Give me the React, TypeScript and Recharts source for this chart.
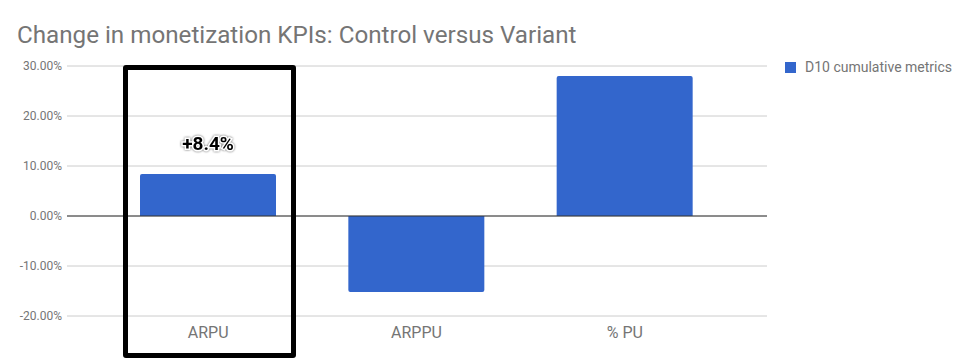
import React from "react";
import { BarChart, Bar, XAxis, YAxis, CartesianGrid, ReferenceLine, LabelList } from "recharts";

const categories = ["ARPU", "ARPPU", "% PU"];
const values = [8.4, -15.2, 28.0];
const annotations = ["+8.4%", "", ""];
const yTicks = [-20, -10, 0, 10, 20, 30];
const seriesName = "D10 cumulative metrics";
const title = "Change in monetization KPIs: Control versus Variant";

const data = categories.map((c, i) => ({ name: c, value: values[i], note: annotations[i] }));

const FONT = "Roboto, 'Noto Sans', sans-serif";
const GREY = "#757575";
const BLUE = "#3366cc";

const NoteLabel = (props: any) => {
  const { x, y, width, value } = props;
  if (!value) return null;
  return (
    <text
      x={x + width / 2}
      y={y - 24}
      textAnchor="middle"
      fontFamily={FONT}
      fontWeight="bold"
      fontSize={19}
      fill="#000"
      stroke="#fff"
      strokeWidth={3}
      paintOrder="stroke"
      style={{ filter: "drop-shadow(0px 0px 1px rgba(0,0,0,0.6))" }}
    >
      {value}
    </text>
  );
};

export default function App() {
  return (
    <div style={{ position: "fixed", left: 0, top: 0, width: 968, height: 363, background: "#fff", overflow: "hidden" }}>
      <div
        style={{
          position: "absolute",
          left: 17,
          top: 22.5,
          fontFamily: FONT,
          fontSize: 24.2,
          lineHeight: "24px",
          color: GREY,
          whiteSpace: "nowrap",
        }}
      >
        {title}
      </div>
      <BarChart
        width={968}
        height={363}
        data={data}
        margin={{ top: 66, right: 201, bottom: 17, left: 7 }}
        barSize={136}
      >
        <CartesianGrid horizontal vertical={false} stroke="#cccccc" />
        <XAxis
          dataKey="name"
          axisLine={false}
          tickLine={false}
          height={30}
          tickSize={0}
          tickMargin={11}
          padding={{ left: 37, right: 38 }}
          tick={{ fill: GREY, fontSize: 16, fontFamily: FONT }}
        />
        <YAxis
          width={60}
          domain={[-20, 30]}
          ticks={yTicks}
          axisLine={false}
          tickLine={false}
          tickSize={3}
          tickMargin={2}
          interval={0}
          tickFormatter={(v: number) => `${v.toFixed(2)}%`}
          tick={{ fill: GREY, fontSize: 12, fontFamily: FONT }}
        />
        <ReferenceLine y={0} stroke="#333333" strokeWidth={1} />
        <Bar dataKey="value" name={seriesName} fill={BLUE} radius={[2, 2, 0, 0]} isAnimationActive={false}>
          <LabelList dataKey="note" content={NoteLabel} />
        </Bar>
      </BarChart>
      <div
        style={{
          position: "absolute",
          left: 123,
          top: 65,
          width: 173,
          height: 293,
          boxSizing: "border-box",
          border: "5px solid #000",
          borderRadius: 3,
          pointerEvents: "none",
        }}
      />
      <div style={{ position: "absolute", left: 785, top: 59, display: "flex", alignItems: "center", fontFamily: FONT, fontSize: 14, color: GREY, whiteSpace: "nowrap" }}>
        <span style={{ display: "inline-block", width: 11, height: 11, background: BLUE, marginRight: 9 }} />
        <span style={{ lineHeight: "17px" }}>{seriesName}</span>
      </div>
    </div>
  );
}
